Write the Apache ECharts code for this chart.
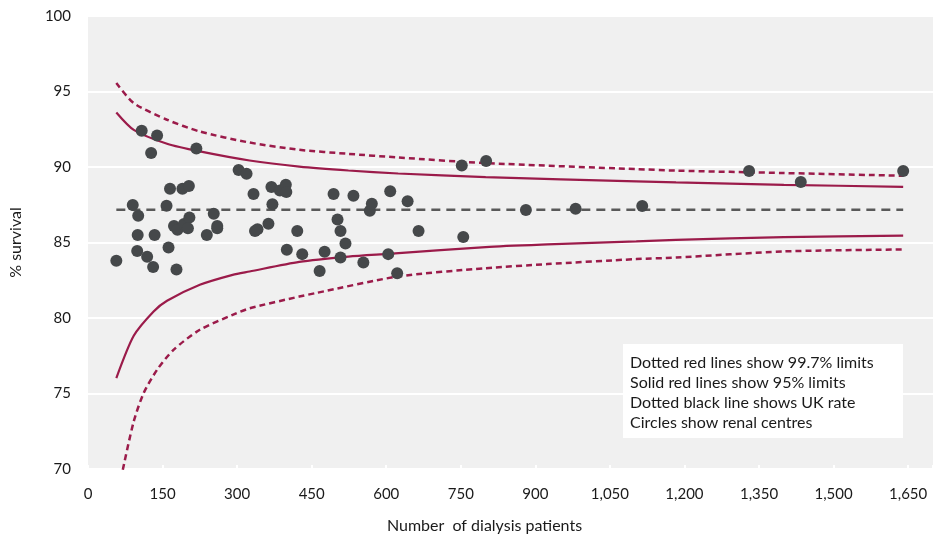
<!DOCTYPE html>
<html>
<head>
<meta charset="utf-8">
<script src="https://cdn.jsdelivr.net/npm/echarts@6/dist/echarts.min.js"></script>
<style>
html,body{margin:0;padding:0;background:#fff;}
#chart{width:936px;height:540px;}
</style>
</head>
<body>
<div id="chart"></div>
<script>
// Renal centres: number of dialysis patients and % survival
const centreN = [57, 90, 101, 100, 99, 108, 119, 127, 134, 131, 139, 158, 162, 165, 173, 180, 178, 190, 193, 204, 203, 201, 218, 239, 253, 260, 260, 303, 319, 333, 336, 341, 363, 369, 371, 386, 398, 399, 400, 421, 431, 466, 476, 494, 502, 508, 508, 518, 534, 554, 567, 571, 604, 608, 622, 643, 665, 752, 755, 801, 881, 981, 1115, 1330, 1434, 1640];
const centreSurvival = [83.79, 87.48, 86.77, 85.49, 84.43, 92.40, 84.05, 90.92, 85.49, 83.37, 92.09, 87.43, 84.67, 88.56, 86.09, 85.84, 83.21, 88.56, 86.22, 86.66, 88.74, 85.95, 91.23, 85.49, 86.90, 86.09, 85.95, 89.80, 89.55, 88.21, 85.76, 85.88, 86.24, 88.67, 87.54, 88.44, 88.82, 88.34, 84.52, 85.76, 84.23, 83.11, 84.38, 88.21, 86.52, 85.76, 84.01, 84.93, 88.09, 83.68, 87.10, 87.56, 84.23, 88.40, 82.97, 87.73, 85.76, 90.10, 85.36, 90.39, 87.15, 87.23, 87.41, 89.73, 89.00, 89.73];

// UK rate
const ukRateN = [57, 1640];
const ukRate = [87.17, 87.17];

// Upper limits
const upperN = [57, 92, 159, 225, 325, 425, 524, 624, 800, 1103, 1183, 1400, 1640];
const upper997 = [95.56, 94.23, 93.13, 92.35, 91.62, 91.14, 90.87, 90.63, 90.26, 89.86, 89.76, 89.60, 89.42];
const upper95 = [93.61, 92.46, 91.54, 91.03, 90.43, 90.03, 89.77, 89.57, 89.33, 89.05, 88.98, 88.82, 88.69];

// Lower limits
const lower95N = [57, 92, 132, 159, 225, 291, 325, 425, 524, 604, 800, 924, 1103, 1183, 1400, 1640];
const lower95 = [76.02, 78.82, 80.43, 81.14, 82.20, 82.86, 83.08, 83.72, 84.07, 84.25, 84.70, 84.87, 85.07, 85.18, 85.36, 85.46];
const lower997N = [70, 92, 112, 139, 172, 225, 291, 325, 425, 458, 624, 800, 924, 1103, 1183, 1400, 1640];
const lower997 = [69.95, 73.15, 75.03, 76.57, 77.89, 79.22, 80.21, 80.64, 81.42, 81.65, 82.75, 83.30, 83.57, 83.90, 84.00, 84.41, 84.54];

// Annotation text
const noteLines = ['Dotted red lines show 99.7% limits', 'Solid red lines show 95% limits', 'Dotted black line shows UK rate', 'Circles show renal centres'];

const zip = (a, b) => a.map((v, i) => [v, b[i]]);
const RED = '#9B1B4A';
const FONT = 'Lato';
const SMOOTH = 0.25;

const chart = echarts.init(document.getElementById('chart'), null, {renderer: 'canvas'});
chart.setOption({
  animation: false,
  backgroundColor: '#ffffff',
  textStyle: {fontFamily: FONT},
  grid: {left: 87, right: -3, top: 16, bottom: 71, show: true, backgroundColor: '#f0f0f0', borderWidth: 0},
  xAxis: {
    type: 'value', min: 0, max: 1700, interval: 150,
    name: 'Number  of dialysis patients', nameLocation: 'middle', nameGap: 49,
    nameTextStyle: {fontFamily: FONT, fontSize: 16, color: '#1a1a1a', padding: [0, 52, 0, 0]},
    axisLine: {show: true, lineStyle: {color: '#ffffff', width: 2}},
    axisTick: {show: true, inside: true, length: 4, lineStyle: {color: '#ffffff', width: 2}},
    splitLine: {show: false},
    axisLabel: {
      fontFamily: FONT, fontSize: 15, color: '#1a1a1a', margin: 18,
      formatter: v => v > 1650 ? '' : v.toLocaleString('en-US')
    }
  },
  yAxis: {
    type: 'value', min: 70, max: 100, interval: 5,
    name: '% survival', nameLocation: 'middle', nameGap: 64,
    nameTextStyle: {fontFamily: FONT, fontSize: 16, color: '#1a1a1a'},
    axisLine: {show: false}, axisTick: {show: false},
    splitLine: {show: true, lineStyle: {color: '#ffffff', width: 2}},
    axisLabel: {fontFamily: FONT, fontSize: 15, color: '#1a1a1a', margin: 17}
  },
  series: [
    {type: 'line', name: 'UK rate', data: zip(ukRateN, ukRate), showSymbol: false, z: 2,
     lineStyle: {color: '#595959', width: 2.5, type: [9, 6]}},
    {type: 'line', name: 'Upper 99.7%', data: zip(upperN, upper997), showSymbol: false, z: 2,
     smooth: SMOOTH,
     lineStyle: {color: RED, width: 2.5, type: [6, 4]}},
    {type: 'line', name: 'Upper 95%', data: zip(upperN, upper95), showSymbol: false, z: 2,
     smooth: SMOOTH,
     lineStyle: {color: RED, width: 2.2}},
    {type: 'line', name: 'Lower 95%', data: zip(lower95N, lower95), showSymbol: false, z: 2,
     smooth: SMOOTH,
     lineStyle: {color: RED, width: 2.2}},
    {type: 'line', name: 'Lower 99.7%', data: zip(lower997N, lower997), showSymbol: false, z: 2,
     smooth: SMOOTH,
     lineStyle: {color: RED, width: 2.5, type: [6, 4]}},
    {type: 'scatter', name: 'Renal centres', data: zip(centreN, centreSurvival), symbolSize: 12, z: 5,
     itemStyle: {color: '#45484A', opacity: 1}}
  ],
  graphic: [{
    type: 'group', left: 623, top: 344,
    children: [
      {type: 'rect', shape: {x: 0, y: 0, width: 280, height: 94}, style: {fill: '#ffffff'}},
      ...noteLines.map((t, i) => ({
        type: 'text', x: 7, y: 19 + i * 20,
        style: {text: t, fontFamily: FONT, fontSize: 16, fill: '#1a1a1a', verticalAlign: 'middle'}
      }))
    ]
  }]
});
</script>
</body>
</html>
